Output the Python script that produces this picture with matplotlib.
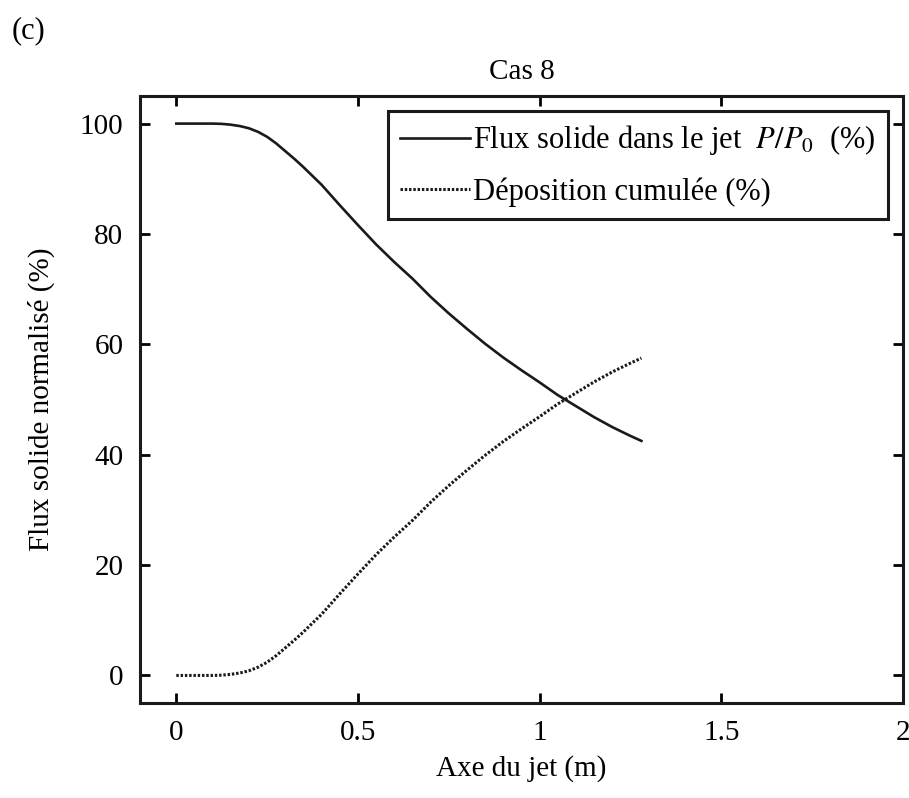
import numpy as np
import matplotlib
matplotlib.use('Agg')
import matplotlib.pyplot as plt

plt.rcParams['font.family'] = ['Liberation Serif', 'DejaVu Serif']
plt.rcParams['mathtext.fontset'] = 'stix'

# valeurs
x_jet = [0.0, 0.05, 0.1, 0.125, 0.15, 0.175, 0.2, 0.225, 0.25, 0.275, 0.3, 0.325,
         0.35, 0.375, 0.4, 0.45, 0.5, 0.55, 0.6, 0.65, 0.7, 0.75, 0.8, 0.85,
         0.9, 0.95, 1.0, 1.05, 1.1, 1.15, 1.2, 1.25, 1.28]
flux = [100, 100, 100, 99.95, 99.8, 99.55, 99.15, 98.5, 97.6, 96.4, 95.0, 93.6,
        92.1, 90.5, 88.9, 85.2, 81.6, 78.1, 74.9, 71.9, 68.6, 65.6, 62.8, 60.1,
        57.6, 55.3, 53.1, 50.8, 48.8, 46.8, 45.0, 43.4, 42.5]
depot = [0, 0, 0, 0.05, 0.2, 0.45, 0.85, 1.5, 2.4, 3.6, 5.0, 6.4,
         7.9, 9.5, 11.1, 14.8, 18.4, 21.9, 25.1, 28.1, 31.4, 34.4, 37.2, 39.9,
         42.4, 44.7, 46.9, 49.2, 51.2, 53.2, 55.0, 56.6, 57.5]

xticks = [0, 0.5, 1, 1.5, 2]
xticklabels = ['0', '0.5', '1', '1.5', '2']
yticks = [0, 20, 40, 60, 80, 100]

fig = plt.figure(figsize=(9.09, 7.98), dpi=100)
ax = fig.add_axes([0.154, 0.119, 0.8394, 0.7607])

ax.plot(x_jet, flux, color='#1a1a1a', lw=1.9,
        label=r'Flux solide dans le jet  $P/P_{\mathit{0}}$  (%)')
ax.plot(x_jet, depot, color='#1a1a1a', lw=2.2, linestyle=(0, (0.8, 0.6)),
        label=u'Déposition cumulée (%)')

ax.set_xlim(-0.1, 2)
ax.set_ylim(-5, 105)
ax.set_xticks(xticks)
ax.set_xticklabels(xticklabels)
ax.set_yticks(yticks)
ax.tick_params(direction='in', length=7, width=2, labelsize=21, pad=12,
               top=True, right=True)
for s in ax.spines.values():
    s.set_linewidth(2.2)
    s.set_color('#1a1a1a')

ax.set_xlabel('Axe du jet (m)', fontsize=21, labelpad=7)
ax.set_ylabel(u'Flux solide normalisé (%)', fontsize=21, labelpad=18)
ax.set_title('Cas 8', fontsize=21, pad=12)

leg = ax.legend(loc='upper right', fontsize=22, frameon=True, fancybox=False,
                handlelength=2.3, handletextpad=0.1, borderpad=0.4,
                labelspacing=0.65, borderaxespad=0,
                bbox_to_anchor=(0.980, 0.975))
leg.get_frame().set_edgecolor('#1a1a1a')
leg.get_frame().set_linewidth(2.2)
leg.get_frame().set_alpha(1)

fig.text(0.013, 0.952, '(c)', fontsize=22)

plt.savefig('out.png', dpi=100)
